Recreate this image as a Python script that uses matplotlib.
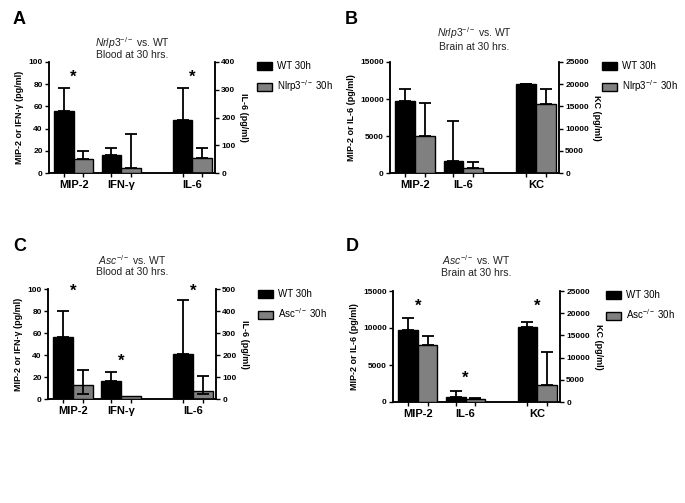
import matplotlib
matplotlib.use("Agg")
import matplotlib.pyplot as plt
from matplotlib.patches import Patch
import numpy as np

plt.rcParams['font.family'] = ['Liberation Sans', 'DejaVu Sans']
plt.rcParams['mathtext.fontset'] = 'custom'
plt.rcParams['mathtext.rm'] = 'Liberation Sans'
plt.rcParams['mathtext.it'] = 'Liberation Sans:italic'
plt.rcParams['mathtext.bf'] = 'Liberation Sans:bold'

# ---------------- data ----------------
# Panel A: Nrlp3-/- vs WT, blood
a_cats = ["MIP-2", "IFN-γ", "IL-6"]
a_wt = [56, 16.5, 190]
a_wt_err = [21, 6, 115]
a_ko = [12.5, 4.5, 55]
a_ko_err = [7.5, 31, 36]
a_ko_err_lo = [0, 0, 0]
a_stars = [True, False, True]

# Panel B: Nrlp3-/- vs WT, brain
b_cats = ["MIP-2", "IL-6", "KC"]
b_wt = [9750, 1650, 20000]
b_wt_err = [1550, 5350, 120]
b_ko = [5000, 630, 15500]
b_ko_err = [4500, 820, 3500]
b_ko_err_lo = [0, 0, 0]
b_stars = [False, False, False]

# Panel C: Asc-/- vs WT, blood
c_cats = ["MIP-2", "IFN-γ", "IL-6"]
c_wt = [56, 16.3, 203]
c_wt_err = [24, 8.2, 247]
c_ko = [12.5, 2.7, 38]
c_ko_err = [14, 0, 68]
c_ko_err_lo = [8, 0, 15]
c_stars = [True, True, True]

# Panel D: Asc-/- vs WT, brain
d_cats = ["MIP-2", "IL-6", "KC"]
d_wt = [9750, 720, 16800]
d_wt_err = [1550, 780, 1200]
d_ko = [7700, 360, 3800]
d_ko_err = [1200, 140, 7500]
d_ko_err_lo = [0, 0, 0]
d_stars = [True, True, True]

W, H = 685, 503
fig = plt.figure(figsize=(W / 100, H / 100), dpi=100)


def fx(px):
    return px / W


def fy(py):
    return 1 - py / H


def panel(x0, x1, y0, y1, cats, wt, wt_err, ko, ko_err, ko_err_lo, stars,
          lmax, lstep, rmax, rstep, llabel, rlabel, ko_name, title_it,
          title2, title_y, letter, letter_pos, leg_pos, star_y):
    ax = fig.add_axes([fx(x0), fy(y1), fx(x1 - x0), (y1 - y0) / H])
    ax2 = ax.twinx()
    ax.set_zorder(ax2.get_zorder() + 1)
    ax.patch.set_visible(False)
    pos = np.array([0, 1, 2.5])
    w = 0.41
    for i in range(3):
        a = ax if i < 2 else ax2
        a.bar(pos[i] - w / 2, wt[i], w, color='black', edgecolor='black',
              linewidth=1.0, zorder=3)
        a.bar(pos[i] + w / 2, ko[i], w, color='#808080', edgecolor='black',
              linewidth=1.0, zorder=3)
        a.errorbar(pos[i] - w / 2, wt[i], yerr=[[0], [wt_err[i]]], fmt='none',
                   ecolor='black', elinewidth=1.3, capsize=4, capthick=1.3,
                   zorder=4)
        if ko_err[i] > 0:
            a.errorbar(pos[i] + w / 2, ko[i], yerr=[[ko_err_lo[i]], [ko_err[i]]],
                       fmt='none', ecolor='black', elinewidth=1.3, capsize=4,
                       capthick=1.3, zorder=4)
        if stars[i]:
            a.text(pos[i], star_y[i], "*", ha='center', va='center',
                   fontsize=12, fontweight='bold', zorder=5)
    for a, mx, st in ((ax, lmax, lstep), (ax2, rmax, rstep)):
        a.set_ylim(0, mx)
        a.set_yticks(np.arange(0, mx + 1, st))
        a.tick_params(axis='y', labelsize=6, width=1, length=3, pad=1.5)
        for t in a.get_yticklabels():
            t.set_fontweight('bold')
        a.spines['top'].set_visible(False)
        for s in ('left', 'right', 'bottom'):
            a.spines[s].set_linewidth(1.1)
    ax.set_xlim(-0.52, 2.98)
    ax2.set_xlim(-0.52, 2.98)
    ax.set_xticks(np.concatenate([pos - w / 2, pos + w / 2]))
    ax.set_xticklabels([])
    ax.set_xticks(pos, minor=True)
    ax.set_xticklabels(cats, minor=True, fontsize=8, fontweight='bold')
    ax.tick_params(axis='x', which='major', length=3, width=1)
    ax.tick_params(axis='x', which='minor', length=0, pad=5)
    ax.set_ylabel(llabel, fontsize=6.5, fontweight='bold', labelpad=3)
    ax2.set_ylabel(rlabel, fontsize=6.5, fontweight='bold', rotation=-90,
                   labelpad=9)
    cx = (x0 + x1) / 2
    fig.text(fx(cx), fy(title_y[0]), title_it, ha='center', va='center',
             fontsize=7.5, color='#222222')
    fig.text(fx(cx), fy(title_y[1]), title2, ha='center', va='center',
             fontsize=7.5, color='#222222')
    fig.text(fx(letter_pos[0]), fy(letter_pos[1]), letter, ha='left',
             va='center', fontsize=13, fontweight='bold')
    handles = [Patch(facecolor='black', edgecolor='black', linewidth=1.0),
               Patch(facecolor='#808080', edgecolor='black', linewidth=1.0)]
    fig.legend(handles, ["WT 30h", ko_name], loc='upper left',
               bbox_to_anchor=(fx(leg_pos[0]), fy(leg_pos[1])),
               frameon=False, fontsize=7, handlelength=1.5, handleheight=0.9,
               labelspacing=0.75, handletextpad=0.6, borderpad=0,
               borderaxespad=0)
    return ax


panel(49, 215, 62, 173, a_cats, a_wt, a_wt_err, a_ko, a_ko_err, a_ko_err_lo,
      a_stars, 100, 20, 400, 100, "MIP-2 or IFN-γ (pg/ml)", "IL-6 (pg/ml)",
      r"Nlrp3$^{-/-}$ 30h", r"$\mathit{Nrlp3}^{-/-}$ vs. WT", "Blood at 30 hrs.",
      (43, 55), "A", (13, 20), (257, 61), [86, 0, 345])

panel(390, 559, 62, 173, b_cats, b_wt, b_wt_err, b_ko, b_ko_err, b_ko_err_lo,
      b_stars, 15000, 5000, 25000, 5000, "MIP-2 or IL-6 (pg/ml)", "KC (pg/ml)",
      r"Nlrp3$^{-/-}$ 30h", r"$\mathit{Nrlp3}^{-/-}$ vs. WT", "Brain at 30 hrs.",
      (33, 47), "B", (345, 20), (602, 61), [0, 0, 0])

panel(48, 216, 289, 399, c_cats, c_wt, c_wt_err, c_ko, c_ko_err, c_ko_err_lo,
      c_stars, 100, 20, 500, 100, "MIP-2 or IFN-γ (pg/ml)", "IL-6 (pg/ml)",
      r"Asc$^{-/-}$ 30h", r"$\mathit{Asc}^{-/-}$ vs. WT", "Blood at 30 hrs.",
      (260, 272), "C", (13, 247), (258, 289), [98, 34, 490])

panel(393, 560, 291, 402, d_cats, d_wt, d_wt_err, d_ko, d_ko_err, d_ko_err_lo,
      d_stars, 15000, 5000, 25000, 5000, "MIP-2 or IL-6 (pg/ml)", "KC (pg/ml)",
      r"Asc$^{-/-}$ 30h", r"$\mathit{Asc}^{-/-}$ vs. WT", "Brain at 30 hrs.",
      (260, 273), "D", (346, 247), (606, 290), [12900, 3200, 21450])

fig.savefig("out.png", dpi=100)
